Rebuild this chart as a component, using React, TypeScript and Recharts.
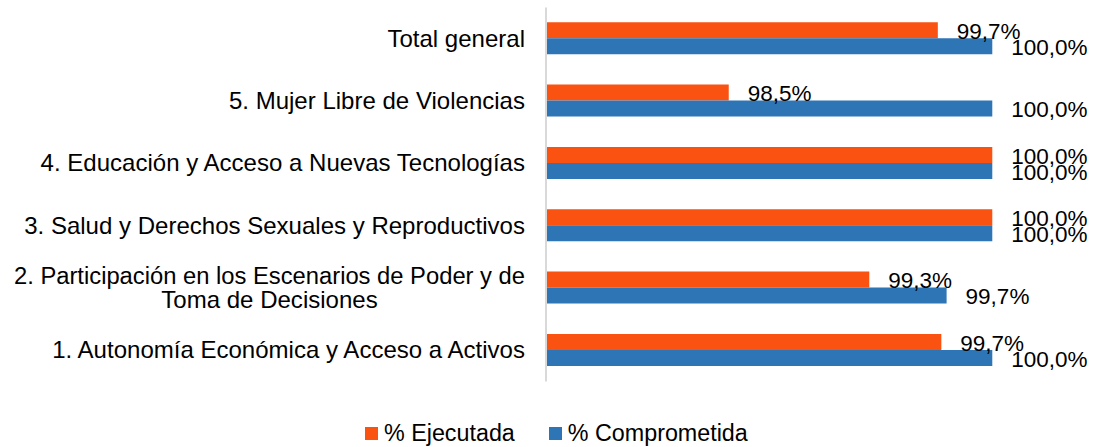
import { BarChart, Bar, XAxis, YAxis, LabelList } from "recharts";

// Categorías (de arriba hacia abajo)
const CATEGORIAS = [
  "Total general",
  "5. Mujer Libre de Violencias",
  "4. Educación y Acceso a Nuevas Tecnologías",
  "3. Salud y Derechos Sexuales y Reproductivos",
  "2. Participación en los Escenarios de Poder y de|Toma de Decisiones",
  "1. Autonomía Económica y Acceso a Activos",
];

const EJECUTADA = [99.69, 98.5, 100.0, 100.0, 99.3, 99.71];
const COMPROMETIDA = [100.0, 100.0, 100.0, 100.0, 99.74, 100.0];

const SERIES = [
  { key: "ejecutada", name: "% Ejecutada", color: "#FA5211" },
  { key: "comprometida", name: "% Comprometida", color: "#2E75B6" },
];

const data = CATEGORIAS.map((name, i) => ({
  name,
  ejecutada: EJECUTADA[i],
  comprometida: COMPROMETIDA[i],
}));

const FONT = '"Liberation Sans", Arial, sans-serif';
const TICK_SIZE = 23;
const STRETCH = 1.045;
const WRAP_WIDTH = 511; // ancho de la primera línea partida

const formatPct = (v: number) => v.toFixed(1).replace(".", ",") + "%";

const CategoryTick = (props: any) => {
  const { x, y, payload } = props;
  const lines = String(payload.value).split("|");
  const common = { fontSize: TICK_SIZE, fill: "#000", fontFamily: FONT, dy: "0.35em" };
  if (lines.length === 1) {
    return (
      <text {...common} x={0} y={0} textAnchor="end" transform={`translate(${x},${y}) scale(${STRETCH},1)`}>
        {lines[0]}
      </text>
    );
  }
  // segunda línea centrada bajo la primera
  return (
    <g>
      <text
        {...common}
        x={x - WRAP_WIDTH}
        y={y - 12}
        textAnchor="start"
        textLength={WRAP_WIDTH}
        lengthAdjust="spacingAndGlyphs"
      >
        {lines[0]}
      </text>
      <text
        {...common}
        x={0}
        y={0}
        textAnchor="middle"
        transform={`translate(${x - WRAP_WIDTH / 2},${y + 12}) scale(${STRETCH},1)`}
      >
        {lines[1]}
      </text>
    </g>
  );
};

const ValueLabel = (props: any) => {
  const { x, y, width, height, value } = props;
  return (
    <text
      x={x + width + 19}
      y={y + height / 2 + 1}
      dy="0.35em"
      fontSize={22.5}
      fill="#000"
      fontFamily={FONT}
    >
      {formatPct(value)}
    </text>
  );
};

const App = () => {
  return (
    <div style={{ position: "absolute", left: 0, top: 0, width: 1096, height: 447, background: "#fff", fontFamily: FONT }}>
      <BarChart
        width={1096}
        height={447}
        data={data}
        layout="vertical"
        margin={{ top: 7.5, right: 51, bottom: 65.5, left: 0 }}
        barCategoryGap="23.7%"
        barGap={0}
      >
        <XAxis type="number" domain={[97.46, 100.3]} hide />
        <YAxis
          type="category"
          dataKey="name"
          width={546}
          tickLine={false}
          tickSize={0}
          tickMargin={21}
          axisLine={{ stroke: "#D9D9D9", strokeWidth: 2 }}
          tick={<CategoryTick />}
          interval={0}
        />
        {SERIES.map((s) => (
          <Bar key={s.key} dataKey={s.key} name={s.name} fill={s.color} isAnimationActive={false}>
            <LabelList dataKey={s.key} content={<ValueLabel />} />
          </Bar>
        ))}
      </BarChart>

      <div
        style={{
          position: "absolute",
          top: 420,
          left: 365,
          display: "flex",
          alignItems: "center",
          fontSize: 23.3,
          color: "#000",
          lineHeight: "26px",
        }}
      >
        {SERIES.map((s, i) => (
          <div key={s.key} style={{ display: "flex", alignItems: "center", marginLeft: i ? 34 : 0 }}>
            <span style={{ width: 13, height: 13, background: s.color, display: "inline-block", marginRight: 6 }} />
            <span>{s.name}</span>
          </div>
        ))}
      </div>
    </div>
  );
};

export default App;
